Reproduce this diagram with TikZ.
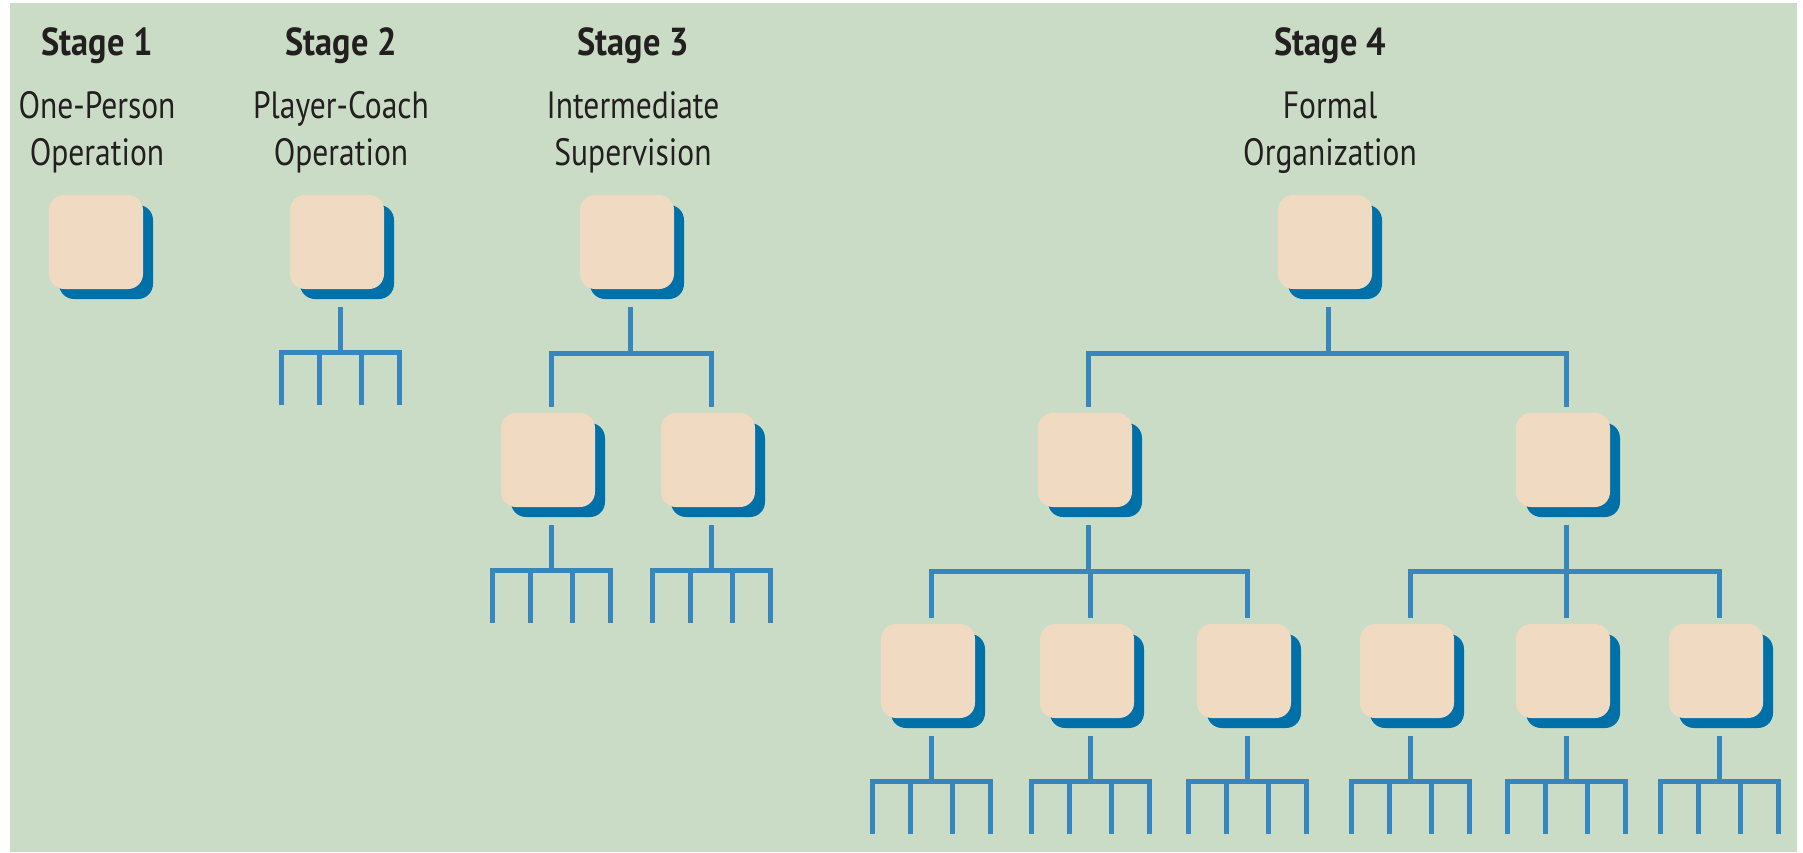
\documentclass[tikz,border=0pt]{standalone}
\usepackage{fontspec}
\setmainfont{PT Sans}[FakeStretch=0.83, BoldFeatures={FakeStretch=0.88}]
\usetikzlibrary{shadows}

\definecolor{sage}{HTML}{CBDCC6}
\definecolor{peach}{HTML}{F0DAC1}
\definecolor{shadeblue}{HTML}{0070A8}
\definecolor{wireblue}{HTML}{3787BE}
\definecolor{ink}{HTML}{231F20}

\tikzset{
  unitbox/.style={minimum width=94pt, minimum height=94pt, inner sep=0pt, outer sep=0pt,
    rounded corners=15pt, fill=peach,
    drop shadow={shadow xshift=10pt, shadow yshift=-10pt, fill=shadeblue, opacity=1}},
  wire/.style={draw=wireblue, line width=5pt},
  stagetitle/.style={font=\fontsize{39}{42}\selectfont\bfseries, text=ink, anchor=base, inner sep=0pt},
  stagename/.style={font=\fontsize{38}{42}\selectfont, text=ink, anchor=base, inner sep=0pt},
}

% comb of four subordinates hanging below a unit
\newcommand\rakeunder[1]{%
  \draw[wire] ([xshift=3pt,yshift=-18pt]#1.south) -- ([xshift=3pt,yshift=-63pt]#1.south);
  \draw[wire] ([xshift=-56pt,yshift=-116pt]#1.south) |- ([xshift=62pt,yshift=-63pt]#1.south)
              -- ([xshift=62pt,yshift=-116pt]#1.south);
  \draw[wire] ([xshift=-18pt,yshift=-63pt]#1.south) -- ([xshift=-18pt,yshift=-116pt]#1.south);
  \draw[wire] ([xshift=24pt,yshift=-63pt]#1.south) -- ([xshift=24pt,yshift=-116pt]#1.south);}

% stem below a supervising unit
\newcommand\stemunder[1]{%
  \draw[wire] ([xshift=3pt,yshift=-18pt]#1.south) -- ([xshift=3pt,yshift=-64pt]#1.south);}

% link from a unit up to its supervisor's bar
\newcommand\branch[2]{%
  \draw[wire] ([xshift=3pt,yshift=6pt]#2.north) |- ([xshift=3pt,yshift=-64pt]#1.south);}

\begin{document}
\begin{tikzpicture}[x=1pt, y=-1pt]
  \useasboundingbox (0,0) rectangle (1803,852);
  \fill[white] (0,0) rectangle (1803,852);
  \fill[sage] (10,3) rectangle (1797,852);

  % headings
  \node[stagetitle] (h1) at (97,55) {Stage 1};
  \node[stagename] (h1a) at (97,118) {One-Person};
  \node[stagename] (h1b) at (97,165) {Operation};

  \node[stagetitle] (h2) at (341,55) {Stage 2};
  \node[stagename] (h2a) at (341,118) {Player-Coach};
  \node[stagename] (h2b) at (341,165) {Operation};

  \node[stagetitle] (h3) at (633,55) {Stage 3};
  \node[stagename] (h3a) at (633,118) {Intermediate};
  \node[stagename] (h3b) at (633,165) {Supervision};

  \node[stagetitle] (h4) at (1330,55) {Stage 4};
  \node[stagename] (h4a) at (1330,118) {Formal};
  \node[stagename] (h4b) at (1330,165) {Organization};

  % units
  \node[unitbox] (s1) at (96,242) {};
  \node[unitbox] (s2) at (337,242) {};
  \node[unitbox] (s3) at (627,242) {};
  \node[unitbox] (s4) at (1325,242) {};

  \node[unitbox] (s3l) at (548,460) {};
  \node[unitbox] (s3r) at (708,460) {};
  \node[unitbox] (s4l) at (1085,460) {};
  \node[unitbox] (s4r) at (1563,460) {};

  \node[unitbox] (s4la) at (928,671) {};
  \node[unitbox] (s4lb) at (1087,671) {};
  \node[unitbox] (s4lc) at (1244,671) {};
  \node[unitbox] (s4ra) at (1407,671) {};
  \node[unitbox] (s4rb) at (1563,671) {};
  \node[unitbox] (s4rc) at (1716,671) {};

  % stage 2
  \rakeunder{s2}

  % stage 3
  \stemunder{s3}
  \branch{s3}{s3l}
  \branch{s3}{s3r}
  \rakeunder{s3l}
  \rakeunder{s3r}

  % stage 4
  \stemunder{s4}
  \branch{s4}{s4l}
  \branch{s4}{s4r}

  \stemunder{s4l}
  \branch{s4l}{s4la}
  \branch{s4l}{s4lb}
  \branch{s4l}{s4lc}

  \stemunder{s4r}
  \branch{s4r}{s4ra}
  \branch{s4r}{s4rb}
  \branch{s4r}{s4rc}

  \rakeunder{s4la}
  \rakeunder{s4lb}
  \rakeunder{s4lc}
  \rakeunder{s4ra}
  \rakeunder{s4rb}
  \rakeunder{s4rc}
\end{tikzpicture}
\end{document}
